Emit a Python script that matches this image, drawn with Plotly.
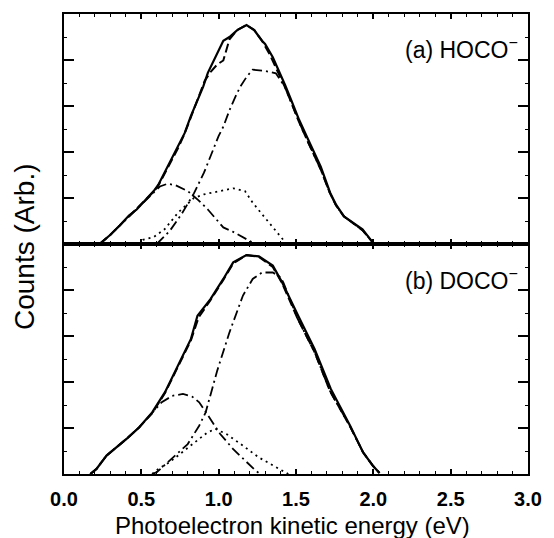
import plotly.graph_objects as go

# ---------------- Panel (a) HOCO- ----------------
a_exp_x = [0.23, 0.30, 0.36, 0.42, 0.47, 0.53, 0.58, 0.61, 0.65, 0.69, 0.74, 0.78, 0.82, 0.86, 0.90, 0.93,
           0.97, 1.03, 1.07, 1.12, 1.18, 1.23, 1.28, 1.30, 1.35, 1.39, 1.43, 1.47, 1.52, 1.58, 1.62, 1.66,
           1.72, 1.76, 1.81, 1.87, 1.93, 2.00]
a_exp_y = [0.0, 0.2, 0.4, 0.62, 0.75, 0.97, 1.15, 1.29, 1.55, 1.83, 2.12, 2.41, 2.78, 3.12, 3.42, 3.72,
           4.0, 4.42, 4.5, 4.65, 4.76, 4.65, 4.42, 4.35, 4.06, 3.77, 3.45, 3.12, 2.7, 2.26, 1.95, 1.68,
           1.12, 0.85, 0.6, 0.45, 0.32, 0.02]

a_fit_x = [0.23, 0.30, 0.36, 0.42, 0.47, 0.53, 0.58, 0.61, 0.65, 0.69, 0.74, 0.78, 0.82, 0.86, 0.91,
           0.95, 0.99, 1.03, 1.07, 1.12, 1.18, 1.23, 1.28, 1.33, 1.39, 1.43, 1.47, 1.52, 1.58, 1.62,
           1.66, 1.72, 1.76, 1.81, 1.87, 1.93, 2.00]
a_fit_y = [0.0, 0.2, 0.4, 0.6, 0.76, 0.97, 1.14, 1.27, 1.52, 1.8, 2.1, 2.4, 2.75, 3.08, 3.55,
           3.75, 3.9, 3.99, 4.45, 4.65, 4.76, 4.65, 4.42, 4.12, 3.7, 3.4, 3.07, 2.65, 2.2, 1.9,
           1.62, 1.1, 0.83, 0.6, 0.45, 0.3, 0.02]

a_low_x = [0.23, 0.30, 0.36, 0.42, 0.47, 0.53, 0.58, 0.62, 0.67, 0.72, 0.80, 0.87, 0.93, 0.98,
           1.03, 1.09, 1.14, 1.18, 1.22]
a_low_y = [0.0, 0.2, 0.4, 0.6, 0.76, 0.97, 1.12, 1.25, 1.31, 1.28, 1.15, 0.95, 0.75, 0.55,
           0.36, 0.27, 0.18, 0.11, 0.03]

a_mid_x = [0.48, 0.51, 0.58, 0.65, 0.74, 0.84, 0.905, 1.01, 1.094, 1.17, 1.22, 1.28, 1.35, 1.41, 1.44]
a_mid_y = [0.0, 0.09, 0.15, 0.32, 0.69, 1.0, 1.08, 1.15, 1.21, 1.15, 0.9, 0.65, 0.36, 0.11, 0.0]

a_big_x = [0.60, 0.685, 0.76, 0.84, 0.905, 0.95, 1.0, 1.03, 1.07, 1.115, 1.14, 1.18, 1.22, 1.30,
           1.37, 1.40, 1.43, 1.47, 1.52, 1.58, 1.62, 1.66, 1.72, 1.76, 1.81, 1.87, 1.93, 2.00]
a_big_y = [0.0, 0.29, 0.65, 1.1, 1.55, 1.95, 2.35, 2.55, 2.91, 3.25, 3.42, 3.63, 3.79, 3.76,
           3.71, 3.56, 3.4, 3.07, 2.65, 2.2, 1.9, 1.62, 1.1, 0.83, 0.6, 0.45, 0.3, 0.02]

# ---------------- Panel (b) DOCO- ----------------
b_exp_x = [0.17, 0.21, 0.275, 0.34, 0.41, 0.485, 0.57, 0.653, 0.737, 0.82, 0.863, 0.947, 1.03,
           1.094, 1.18, 1.26, 1.35, 1.41, 1.514, 1.62, 1.725, 1.85, 1.934, 1.997, 2.04]
b_exp_y = [0.0, 0.11, 0.4, 0.58, 0.78, 1.01, 1.34, 1.78, 2.36, 2.93, 3.44, 3.8, 4.24,
           4.6, 4.76, 4.73, 4.53, 4.17, 3.44, 2.72, 1.85, 1.05, 0.47, 0.18, 0.02]

b_fit_x = [0.17, 0.21, 0.275, 0.34, 0.41, 0.485, 0.57, 0.653, 0.737, 0.82, 0.87, 0.947, 1.03,
           1.094, 1.18, 1.26, 1.35, 1.41, 1.51, 1.62, 1.72, 1.85, 1.934, 1.997, 2.04]
b_fit_y = [0.0, 0.11, 0.4, 0.58, 0.78, 1.01, 1.32, 1.76, 2.33, 2.9, 3.4, 3.78, 4.22,
           4.58, 4.76, 4.72, 4.5, 4.15, 3.38, 2.65, 1.8, 1.03, 0.47, 0.18, 0.02]

b_low_x = [0.17, 0.21, 0.275, 0.34, 0.41, 0.485, 0.56, 0.632, 0.70, 0.769, 0.83, 0.874, 0.926,
           1.01, 1.094, 1.18, 1.24, 1.27]
b_low_y = [0.0, 0.11, 0.4, 0.58, 0.78, 1.01, 1.3, 1.56, 1.7, 1.74, 1.68, 1.56, 1.3,
           0.87, 0.54, 0.25, 0.07, 0.0]

b_mid_x = [0.57, 0.61, 0.68, 0.737, 0.84, 0.926, 0.979, 1.05, 1.155, 1.26, 1.37, 1.45]
b_mid_y = [0.0, 0.11, 0.25, 0.4, 0.69, 0.9, 0.98, 0.87, 0.62, 0.36, 0.15, 0.0]

b_big_x = [0.57, 0.60, 0.695, 0.80, 0.874, 0.916, 0.958, 0.99, 1.07, 1.157, 1.22, 1.28, 1.35,
           1.40, 1.42, 1.51, 1.62, 1.72, 1.85, 1.934, 1.997, 2.04]
b_big_y = [0.0, 0.04, 0.33, 0.65, 1.05, 1.34, 1.85, 2.24, 3.08, 3.88, 4.24, 4.38, 4.38,
           4.28, 4.15, 3.38, 2.65, 1.8, 1.03, 0.47, 0.18, 0.02]

x_tick_vals = [0.0, 0.5, 1.0, 1.5, 2.0, 2.5, 3.0]
x_tick_text = ["0.0", "0.5", "1.0", "1.5", "2.0", "2.5", "3.0"]

label_a = "(a) HOCO<sup>\u2212</sup>"
label_b = "(b) DOCO<sup>\u2212</sup>"
x_title = "Photoelectron kinetic energy (eV)"
y_title = "Counts (Arb.)"

FONT = "Liberation Sans, Arial, sans-serif"

fig = go.Figure()

def add_panel(xa, ya, exp_x, exp_y, fit_x, fit_y, low_x, low_y, mid_x, mid_y, big_x, big_y):
    fig.add_trace(go.Scatter(x=exp_x, y=exp_y, mode="lines", xaxis=xa, yaxis=ya,
                             line=dict(color="black", width=2.2), showlegend=False))
    fig.add_trace(go.Scatter(x=fit_x, y=fit_y, mode="lines", xaxis=xa, yaxis=ya,
                             line=dict(color="black", width=2, dash="9px,4px"), showlegend=False))
    fig.add_trace(go.Scatter(x=low_x, y=low_y, mode="lines", xaxis=xa, yaxis=ya,
                             line=dict(color="black", width=1.8, dash="10px,4px,2px,4px"), showlegend=False))
    fig.add_trace(go.Scatter(x=mid_x, y=mid_y, mode="lines", xaxis=xa, yaxis=ya,
                             line=dict(color="black", width=1.8, dash="2px,4px"), showlegend=False))
    fig.add_trace(go.Scatter(x=big_x, y=big_y, mode="lines", xaxis=xa, yaxis=ya,
                             line=dict(color="black", width=1.8, dash="10px,4px,2px,4px"), showlegend=False))

add_panel("x", "y", a_exp_x, a_exp_y, a_fit_x, a_fit_y, a_low_x, a_low_y, a_mid_x, a_mid_y, a_big_x, a_big_y)
add_panel("x2", "y2", b_exp_x, b_exp_y, b_fit_x, b_fit_y, b_low_x, b_low_y, b_mid_x, b_mid_y, b_big_x, b_big_y)

xcommon = dict(range=[0, 3], tickvals=x_tick_vals, ticks="inside", ticklen=5, tickwidth=1.5,
               tickcolor="black", showline=True, linecolor="black", linewidth=2, mirror="ticks",
               showgrid=False, zeroline=False,
               minor=dict(dtick=0.1, tick0=0, ticks="inside", ticklen=3, tickwidth=1.2, tickcolor="black"))
ycommon = dict(range=[0, 5], dtick=1, tick0=0, ticks="inside", ticklen=10, tickwidth=1.5,
               tickcolor="black", showline=True, linecolor="black", linewidth=2, mirror="ticks",
               showgrid=False, zeroline=False, showticklabels=False,
               minor=dict(dtick=0.5, tick0=0, ticks="inside", ticklen=3, tickwidth=1, tickcolor="black"))

fig.update_layout(
    width=554, height=538,
    margin=dict(l=64, r=15, t=13, b=64),
    paper_bgcolor="white", plot_bgcolor="white",
    xaxis=dict(xcommon, anchor="y", showticklabels=False),
    yaxis=dict(ycommon, domain=[0.5, 1.0], anchor="x"),
    xaxis2=dict(xcommon, anchor="y2", showticklabels=True, ticktext=x_tick_text,
                tickfont=dict(family=FONT, size=20, color="black", weight="bold"),
                ticklabelstandoff=6),
    yaxis2=dict(ycommon, domain=[0.0, 0.5], anchor="x2"),
    annotations=[
        dict(text=label_a, x=1, xref="paper", xanchor="right", xshift=-8,
             y=4.2, yref="y", yanchor="middle", yshift=3, showarrow=False,
             font=dict(family=FONT, size=23, color="black")),
        dict(text=label_b, x=1, xref="paper", xanchor="right", xshift=-8,
             y=4.17, yref="y2", yanchor="middle", yshift=3, showarrow=False,
             font=dict(family=FONT, size=23, color="black")),
        dict(text=x_title, x=0.5, xref="paper", xanchor="center", xshift=-4,
             y=0, yref="paper", yanchor="middle", yshift=-51, showarrow=False,
             font=dict(family=FONT, size=24, color="black")),
        dict(text=y_title, x=0, xref="paper", xanchor="center", xshift=-40,
             y=0.5, yref="paper", yanchor="middle", yshift=-3, textangle=-90, showarrow=False,
             font=dict(family=FONT, size=28, color="black")),
    ],
)

fig.write_html("out.html")
